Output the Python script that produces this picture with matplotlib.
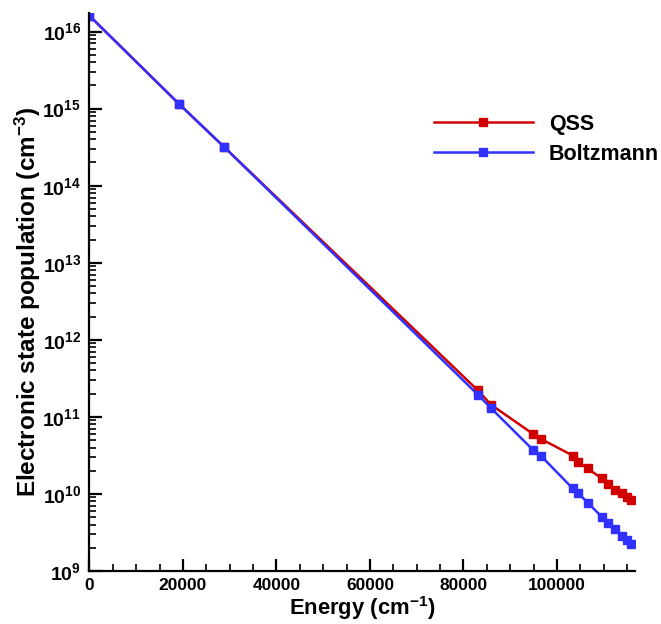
import matplotlib
matplotlib.use("Agg")
import matplotlib.pyplot as plt
from matplotlib.ticker import FixedLocator, LogLocator, FuncFormatter, NullFormatter
import numpy as np

plt.rcParams['font.family'] = ['Liberation Sans', 'DejaVu Sans']
plt.rcParams['font.weight'] = 'bold'
plt.rcParams['mathtext.fontset'] = 'custom'
plt.rcParams['mathtext.rm'] = 'Liberation Sans:bold'
plt.rcParams['mathtext.bf'] = 'Liberation Sans:bold'
plt.rcParams['mathtext.it'] = 'Liberation Sans:bold'
plt.rcParams['mathtext.default'] = 'bf'

# Level energies (cm^-1)
energy = [0, 19150, 28770, 83100, 85880, 94800, 96580,
          103360, 104430, 106570, 109560, 110850, 112410,
          113970, 114910, 115770]

# Populations (cm^-3)
qss = [1.60e16, 1.15e15, 3.19e14, 2.20e11, 1.44e11, 6.06e10, 5.18e10,
       3.15e10, 2.61e10, 2.14e10, 1.59e10, 1.33e10, 1.11e10,
       1.02e10, 9.1e9, 8.3e9]
boltzmann = [1.60e16, 1.15e15, 3.19e14, 1.94e11, 1.30e11, 3.77e10, 3.12e10,
             1.18e10, 1.04e10, 7.7e9, 5.07e9, 4.24e9, 3.47e9,
             2.88e9, 2.52e9, 2.24e9]

series_labels = ["QSS", "Boltzmann"]
x_ticks = [0, 20000, 40000, 60000, 80000, 100000]

fig = plt.figure(figsize=(6.61, 6.24), dpi=100)
ax = fig.add_axes([0.1354, 0.0849, 0.8253, 0.8942])

ax.plot(energy, qss, color='#D00000', lw=1.8, marker='s', ms=6,
        mec='#D00000', mfc='#D00000', label=series_labels[0])
ax.plot(energy, boltzmann, color='#3030FF', lw=1.8, marker='s', ms=6,
        mec='#3030FF', mfc='#3030FF', label=series_labels[1])

ax.set_yscale('log')
ax.set_xlim(0, 116700)
ax.set_ylim(1e9, 10**16.24)

for side in ('top', 'right'):
    ax.spines[side].set_visible(False)
for side in ('left', 'bottom'):
    ax.spines[side].set_linewidth(1.6)

ax.xaxis.set_major_locator(FixedLocator(x_ticks))
ax.xaxis.set_minor_locator(FixedLocator(np.arange(0, 116701, 5000)))
ax.yaxis.set_major_locator(LogLocator(base=10, numticks=20))
ax.yaxis.set_minor_locator(LogLocator(base=10, subs=np.arange(2, 10), numticks=20))
ax.yaxis.set_minor_formatter(NullFormatter())
ax.yaxis.set_major_formatter(FuncFormatter(
    lambda v, p: r'10$^{%d}$' % int(round(np.log10(v)))))

ax.tick_params(axis='both', which='major', direction='in', length=9,
               width=1.6, pad=5)
ax.tick_params(axis='x', which='major', labelsize=12.5)
ax.tick_params(axis='y', which='major', labelsize=14, pad=6)
ax.tick_params(axis='both', which='minor', direction='in', length=5,
               width=1.2)

ax.set_xlabel('Energy (cm$^{-1}$)', fontsize=15.8, fontweight='bold', labelpad=1)
ax.set_ylabel('Electronic state population (cm$^{-3}$)', fontsize=17.5,
              fontweight='bold')
ax.yaxis.set_label_coords(-0.085, 0.482)

leg = ax.legend(loc='upper left', bbox_to_anchor=(0.6155, 0.835), frameon=False,
                numpoints=1, handlelength=4.6, handletextpad=0.75,
                labelspacing=0.42, borderaxespad=0,
                prop={'size': 15.5, 'weight': 'bold'})

fig.savefig('out.png', dpi=100)
